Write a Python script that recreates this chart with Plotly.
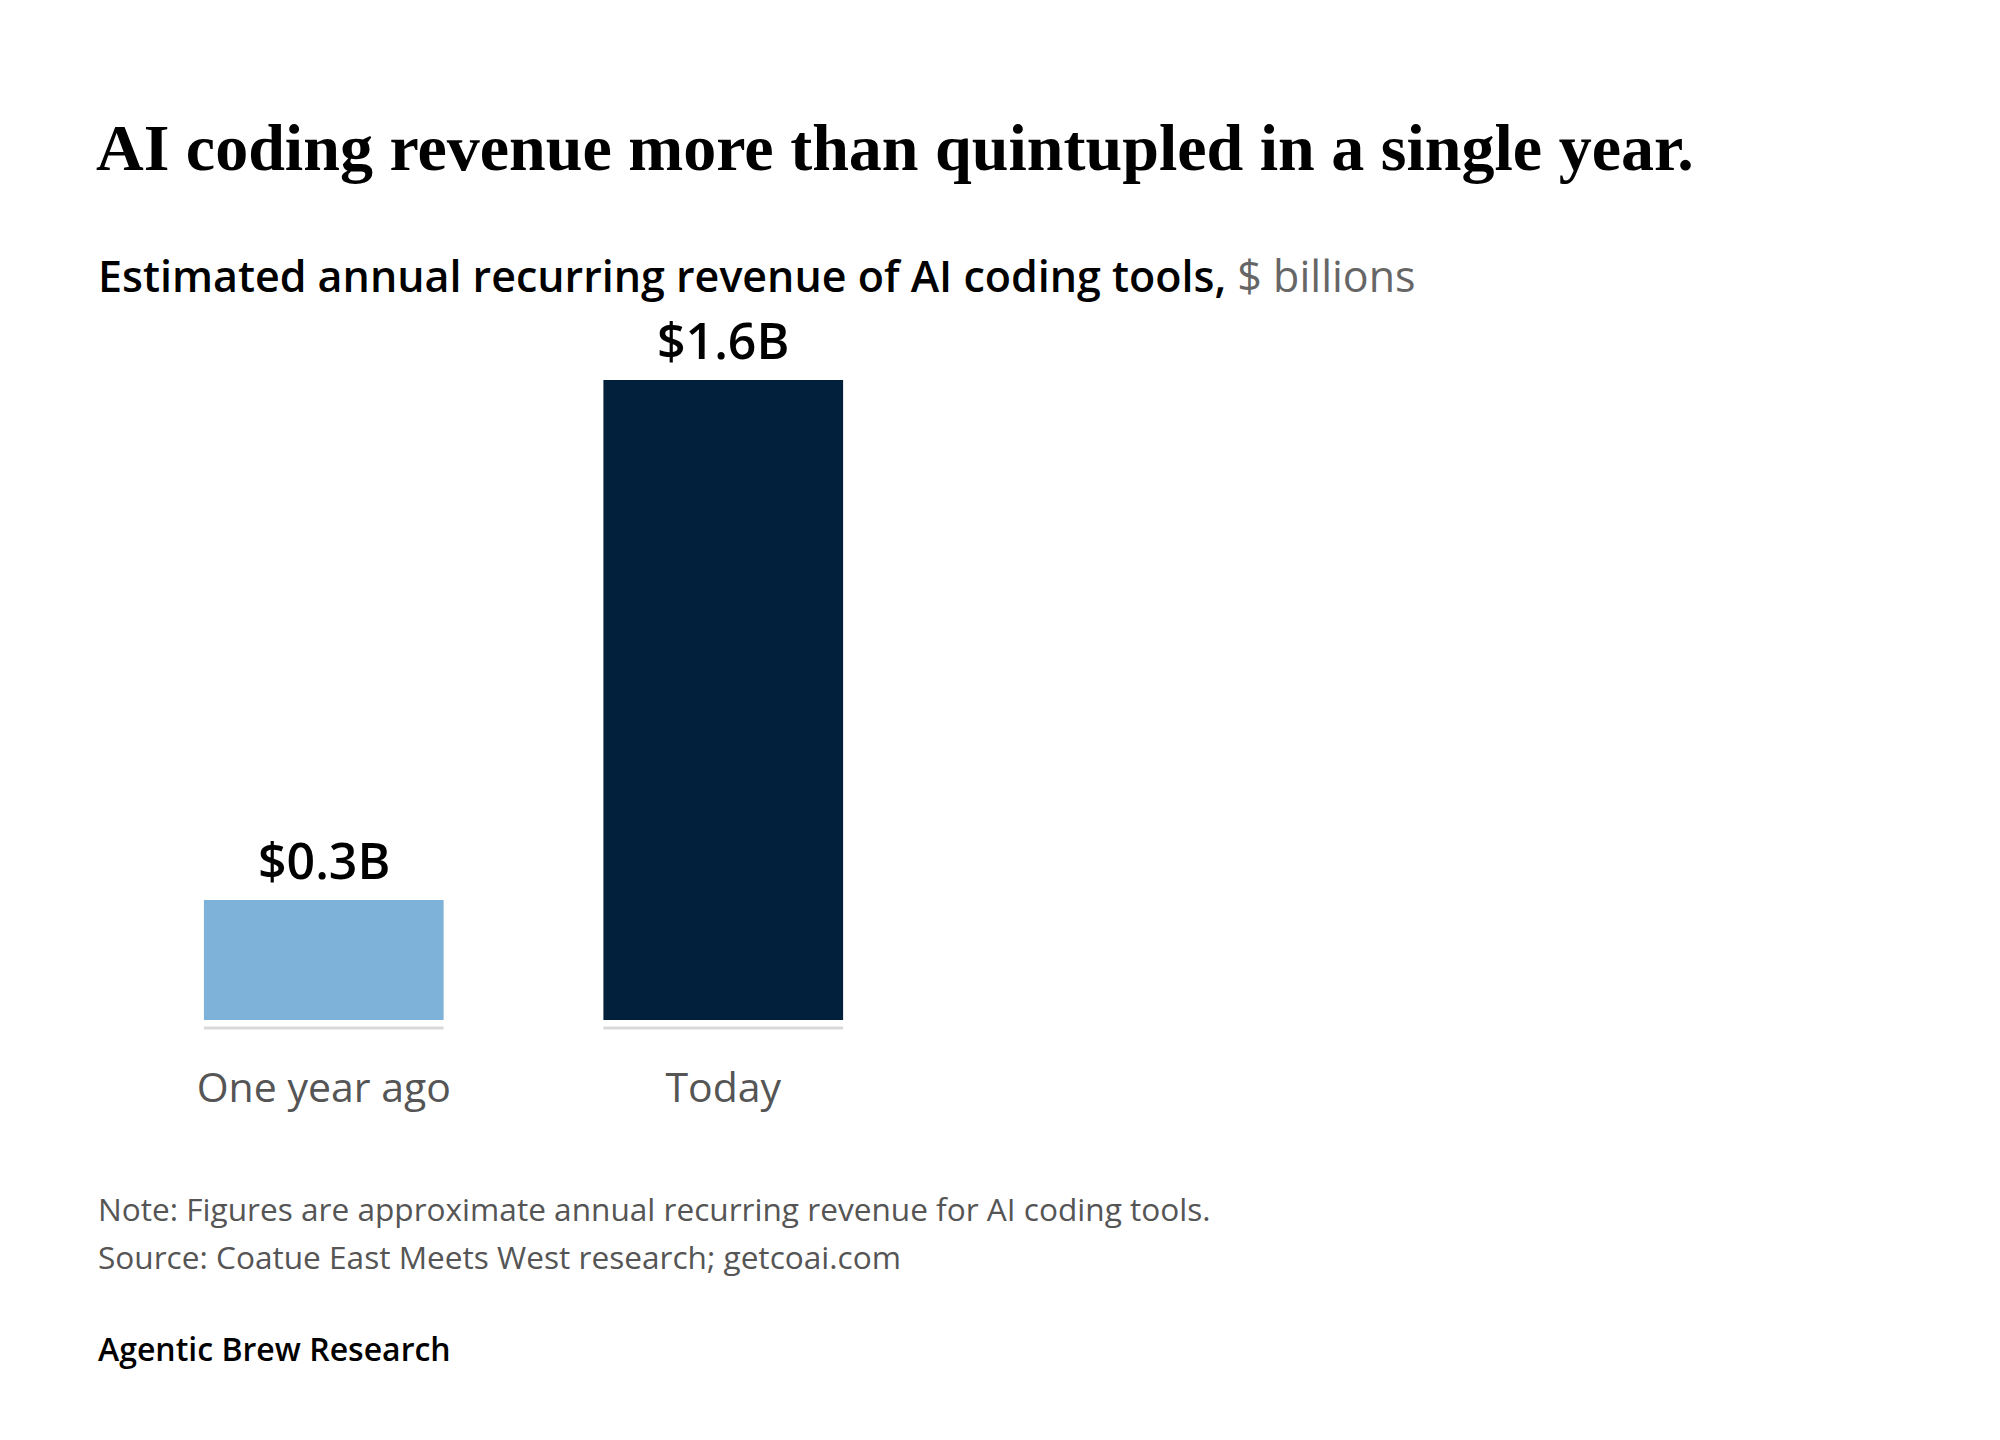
import plotly.graph_objects as go

categories = ["One year ago", "Today"]
values = [0.3, 1.6]
bar_colors = ["#7FB2D8", "#021F3B"]

title_text = "AI coding revenue more than quintupled in a single year."
subtitle_main = "Estimated annual recurring revenue of AI coding tools,"
subtitle_unit = "$ billions"
note_text = "Note: Figures are approximate annual recurring revenue for AI coding tools."
source_text = "Source: Coatue East Meets West research; getcoai.com"
brand_text = "Agentic Brew Research"

W, H = 2000, 1440
PL, PR, PT, PB = 124, 923, 300, 1020  # plot area in pixels
BAR_W = 0.6
SANS = "'Open Sans', 'Noto Sans', sans-serif"


def px(x):
    return (x - PL) / (PR - PL)


def py(y):
    return (PB - y) / (PB - PT)


fig = go.Figure()
fig.add_trace(go.Bar(
    x=categories,
    y=values,
    marker=dict(color=bar_colors, line=dict(width=0)),
    width=BAR_W,
    hoverinfo="skip",
))

shapes = []
for i, _ in enumerate(categories):
    shapes.append(dict(
        type="line", xref="x", yref="paper",
        x0=i - BAR_W / 2, x1=i + BAR_W / 2,
        y0=py(1028), y1=py(1028),
        line=dict(color="#D9D9D9", width=3),
    ))

annotations = []
for c, v in zip(categories, values):
    annotations.append(dict(
        x=c, y=v, xref="x", yref="y", xanchor="center", yanchor="middle",
        yshift=40, showarrow=False, text=f"${v:.1f}B",
        font=dict(family=SANS, size=50, color="#000000", weight=600),
    ))

annotations += [
    dict(x=px(96), y=py(276), xref="paper", yref="paper", xanchor="left", yanchor="middle",
         showarrow=False, align="left",
         text=f"{subtitle_main} <span style='color:#666666;font-weight:400'>{subtitle_unit}</span>",
         font=dict(family=SANS, size=43, color="#000000", weight=600)),
    dict(x=px(96), y=py(1208), xref="paper", yref="paper", xanchor="left", yanchor="middle",
         showarrow=False, align="left", text=note_text,
         font=dict(family=SANS, size=31.6, color="#555555")),
    dict(x=px(96), y=py(1256), xref="paper", yref="paper", xanchor="left", yanchor="middle",
         showarrow=False, align="left", text=source_text,
         font=dict(family=SANS, size=31.6, color="#555555")),
    dict(x=px(96), y=py(1348), xref="paper", yref="paper", xanchor="left", yanchor="middle",
         showarrow=False, align="left", text=brand_text,
         font=dict(family=SANS, size=32, color="#000000", weight=600)),
]

fig.update_layout(
    width=W, height=H,
    margin=dict(l=PL, r=W - PR, t=PT, b=H - PB, pad=0),
    paper_bgcolor="white", plot_bgcolor="white",
    showlegend=False,
    title=dict(text=title_text, x=96 / W, xanchor="left", y=1 - 147 / H, yanchor="middle",
               font=dict(family="'Liberation Serif', serif", size=66, color="#000000", weight=700)),
    xaxis=dict(range=[-0.5, 1.5], showgrid=False, zeroline=False, showline=False,
               ticks="", ticklabelstandoff=40,
               tickfont=dict(family=SANS, size=41, color="#555555")),
    yaxis=dict(range=[0, 1.8], visible=False, showgrid=False, zeroline=False),
    shapes=shapes,
    annotations=annotations,
)

fig.write_html("out.html")
